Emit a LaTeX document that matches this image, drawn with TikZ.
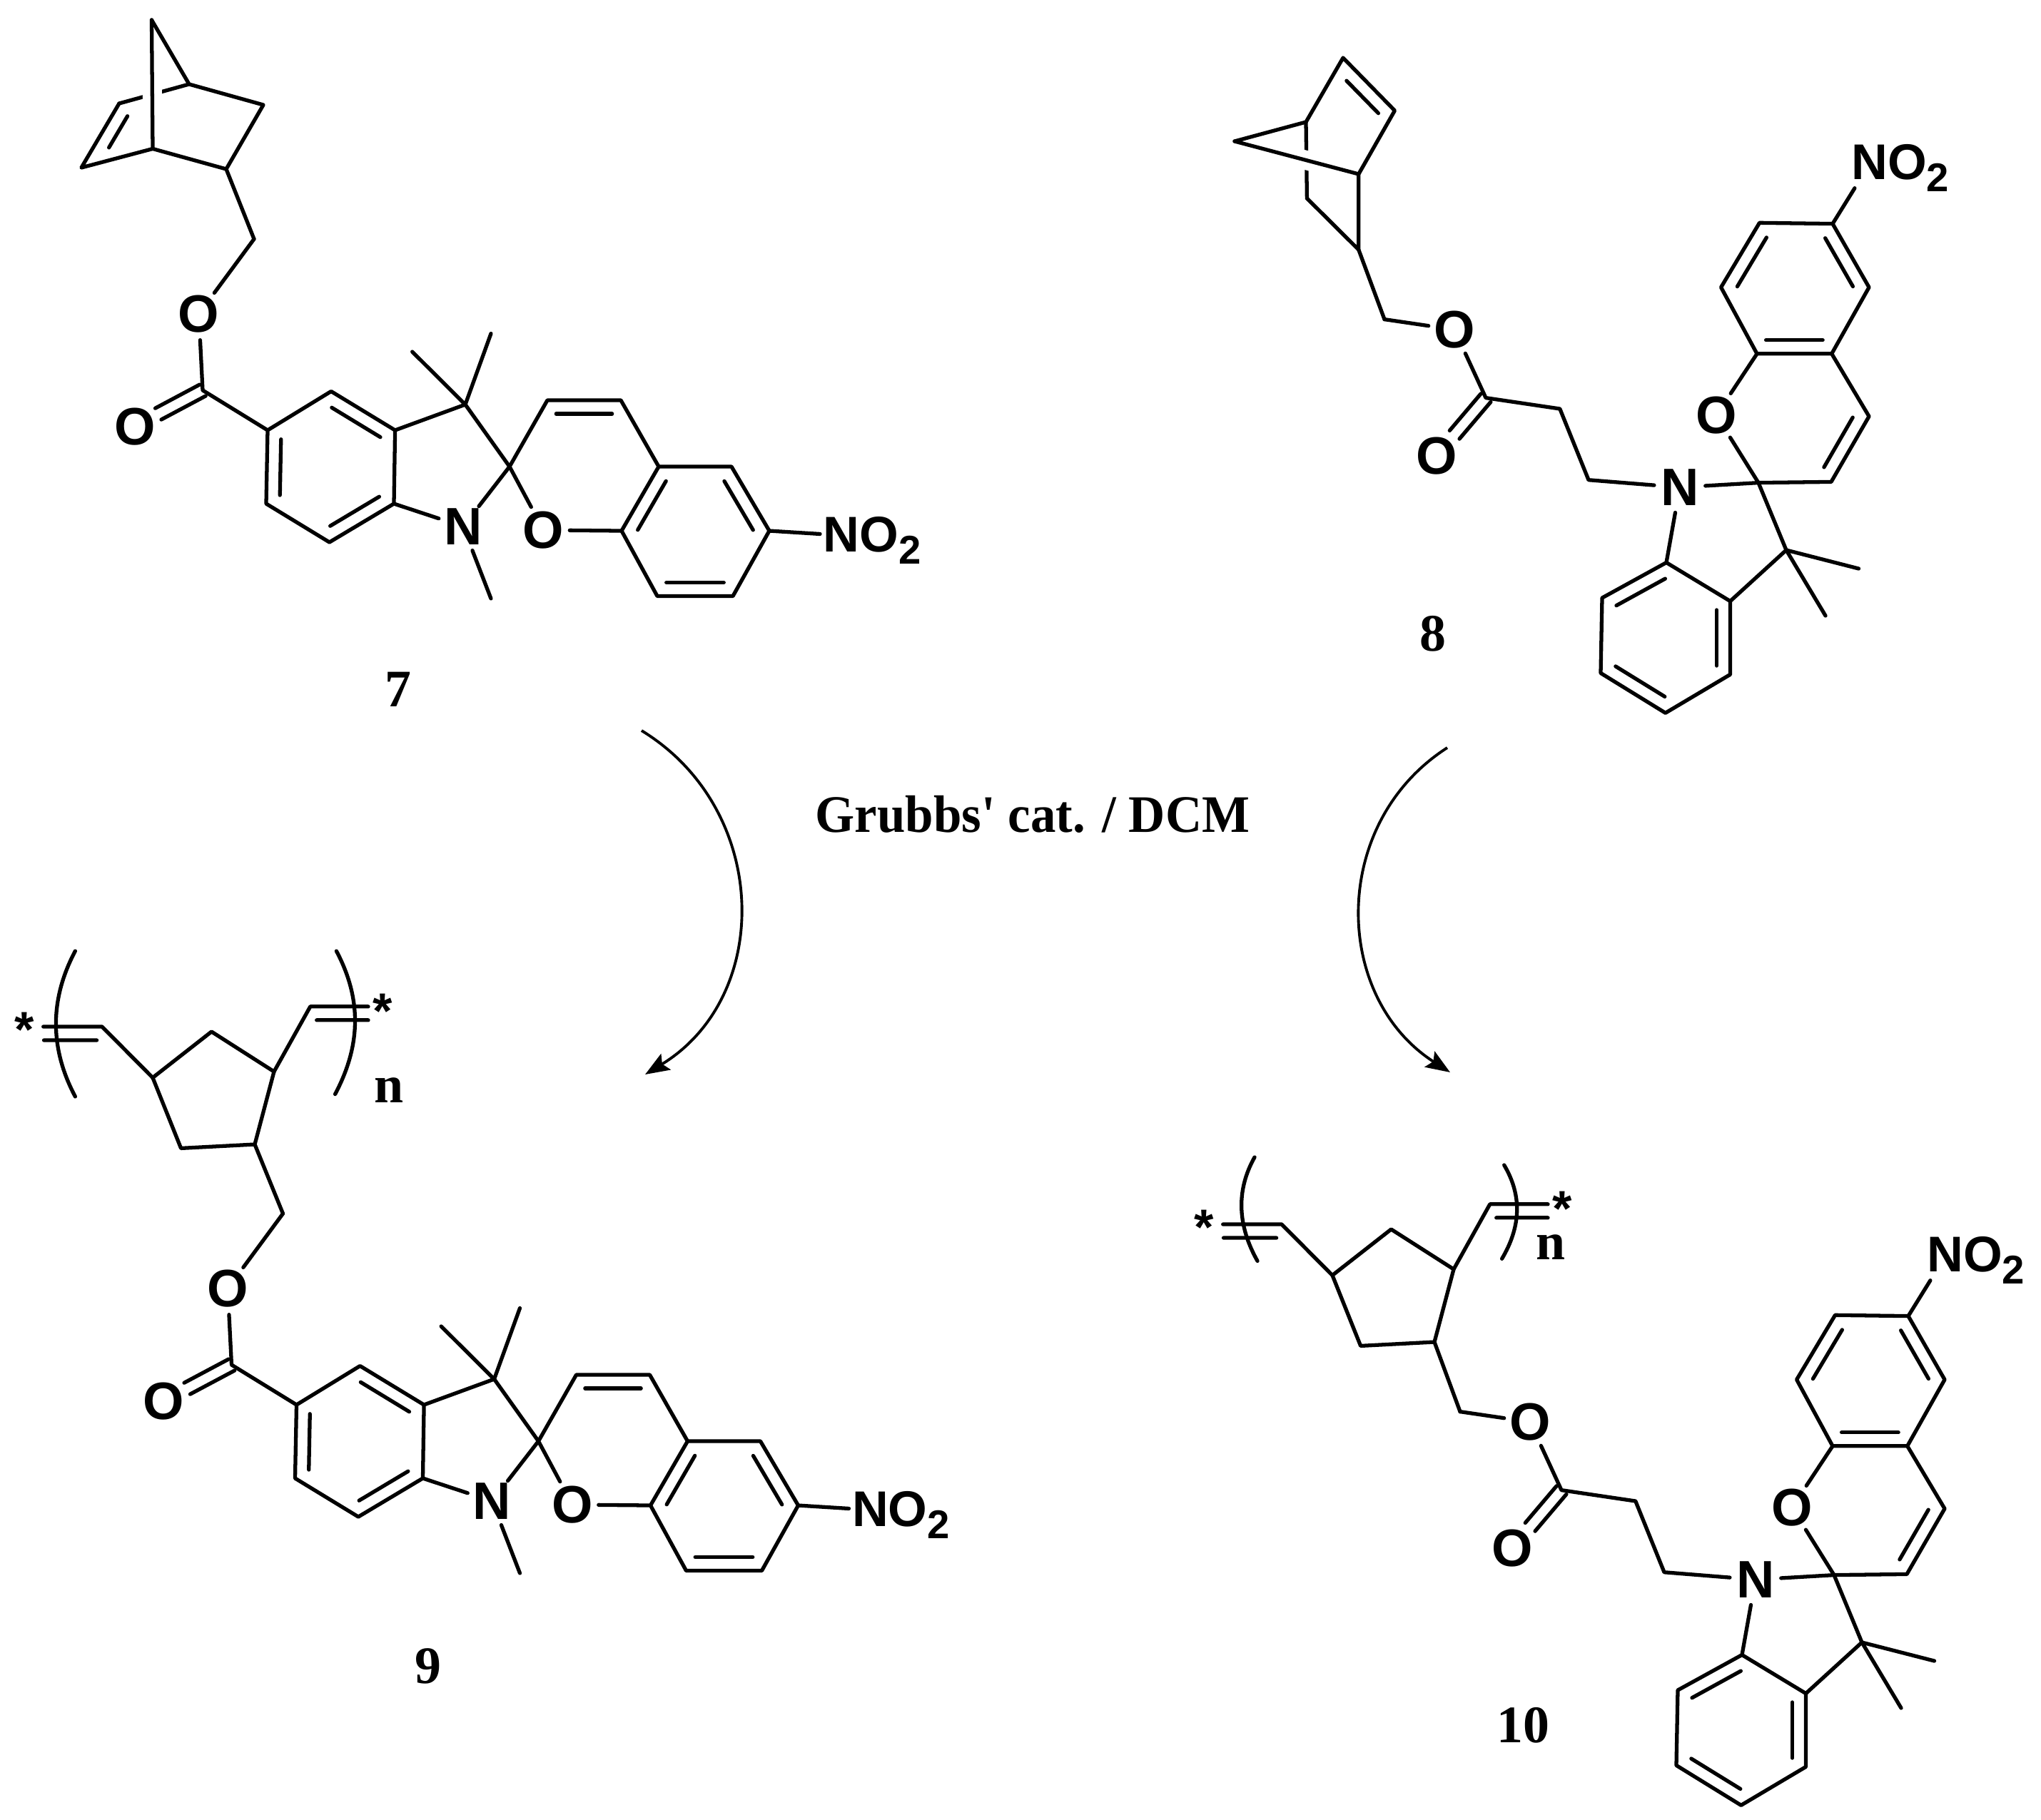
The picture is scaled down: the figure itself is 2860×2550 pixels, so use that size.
\documentclass[tikz,border=0pt]{standalone}
\usepackage{fontspec}
\usepackage{graphicx}
\setmainfont{Liberation Sans}
\newfontfamily\timesfont{Liberation Serif}
\usetikzlibrary{arrows.meta,calc}
\newcommand{\inbond}[4]{\draw[bond] ($(#1)!#3!(#2)!0.19cm!90:(#2)$) -- ($(#1)!#4!(#2)!0.19cm!90:(#2)$);}
\newcommand{\ringbond}[2]{\inbond{#1}{#2}{.12}{.88}}
\newcommand{\cobond}[3]{
	\draw[bond] ($(#1)!0.09cm!90:(#2)$) -- ($(#1)!#3!(#2)!0.09cm!90:(#2)$);
	\draw[bond] ($(#1)!0.09cm!-90:(#2)$) -- ($(#1)!#3!(#2)!0.09cm!-90:(#2)$);
}
\newcommand{\nitrogroup}{NO\raisebox{-1.7mm}{\fontsize{16}{16}\selectfont 2}}
\tikzset{
	bond/.style={line width=1.5pt,line cap=round,line join=round},
	bridge/.style={preaction={draw=white,line width=0.27cm}},
	atom/.style={circle,inner sep=0,minimum size=7.6mm,outer sep=-0.2mm,font=\bfseries\fontsize{21}{21}\selectfont},
	nitro/.style={anchor=base west,inner xsep=0.4mm,inner ysep=0,text depth=0pt,font=\bfseries\fontsize{20}{20}\selectfont},
	star/.style={inner sep=0,font=\bfseries\fontsize{20}{20}\selectfont},
	lab/.style={inner sep=0,font=\timesfont\bfseries\fontsize{21}{21}\selectfont},
	reaction/.style={line width=1.1pt,-{Stealth[length=3.4mm,width=2.6mm,inset=0.6mm]}},
	spiroA/.pic={
		\coordinate (-ch) at (356,335);
		\node[atom] (-oe) at (278.6,440) {O};
		\coordinate (-co) at (284,547);
		\node[atom] (-oc) at (189,597.6) {O};
		\coordinate (-a1) at (375,603);
		\coordinate (-a2) at (464,548.5);
		\coordinate (-a3) at (553.6,603);
		\coordinate (-a4) at (552,706);
		\coordinate (-a5) at (461.6,760);
		\coordinate (-a6) at (373,706);
		\coordinate (-c3) at (652,567);
		\coordinate (-m1) at (577.7,493);
		\coordinate (-m2) at (688,467.5);
		\coordinate (-sp) at (714,654);
		\node[atom] (-n) at (649,738) {N};
		\coordinate (-m3) at (688,839);
		\node[atom] (-or) at (761.6,743) {O};
		\coordinate (-b1) at (767,561);
		\coordinate (-b2) at (870,561);
		\coordinate (-b3) at (923,654);
		\coordinate (-b4) at (1025,654);
		\coordinate (-b5) at (1078,744);
		\coordinate (-b6) at (1027,835.5);
		\coordinate (-b7) at (921,835.5);
		\coordinate (-b8) at (871,744);
		\node[nitro] (-no) at (1149,773) {\nitrogroup};
		\cobond{-co}{-oc}{.655}
		\draw[bond] (-ch) -- (-oe) -- (-co) -- (-a1) -- (-a2) -- (-a3) -- (-a4) -- (-a5) -- (-a6) -- (-a1);
		\draw[bond] (-a3) -- (-c3) -- (-sp) -- (-n) -- (-a4);
		\draw[bond] (-m1) -- (-c3) -- (-m2);
		\draw[bond] (-n) -- (-m3);
		\draw[bond] (-sp) -- (-or) -- (-b8) -- (-b3) -- (-b2) -- (-b1) -- (-sp);
		\draw[bond] (-b3) -- (-b4) -- (-b5) -- (-b6) -- (-b7) -- (-b8);
		\draw[bond] (-b5) -- (-no.west);
		\ringbond{-a1}{-a6}
		\ringbond{-a5}{-a4}
		\ringbond{-a3}{-a2}
		\ringbond{-b2}{-b1}
		\ringbond{-b3}{-b8}
		\ringbond{-b7}{-b6}
		\ringbond{-b5}{-b4}
	},
	spiroB/.pic={
		\coordinate (-ch) at (1940,447.6);
		\node[atom] (-oe) at (2038,462) {O};
		\coordinate (-co) at (2082,557.6);
		\node[atom] (-oc) at (2013,639) {O};
		\coordinate (-c1) at (2185.8,573);
		\coordinate (-c2) at (2226,672.7);
		\node[atom] (-n) at (2353.8,683) {N};
		\coordinate (-d1) at (2335,788.5);
		\coordinate (-d2) at (2424.5,842.6);
		\coordinate (-d3) at (2424.5,945.4);
		\coordinate (-d4) at (2333.7,999.3);
		\coordinate (-d5) at (2243,943.4);
		\coordinate (-d6) at (2245,838);
		\coordinate (-c3) at (2503,771);
		\coordinate (-m1) at (2604.5,797);
		\coordinate (-m2) at (2558,863);
		\coordinate (-sp) at (2464,676.6);
		\node[atom] (-or) at (2405,582) {O};
		\coordinate (-e1) at (2462,495.8);
		\coordinate (-e2) at (2566.7,495.8);
		\coordinate (-e3) at (2619,583.6);
		\coordinate (-e4) at (2566,675.4);
		\coordinate (-f1) at (2411.6,402.7);
		\coordinate (-f2) at (2465.5,312.3);
		\coordinate (-f3) at (2568,313.6);
		\coordinate (-f4) at (2619,402.7);
		\node[nitro] (-no) at (2589.5,251) {\nitrogroup};
		\cobond{-co}{-oc}{.635}
		\draw[bond] (-ch) -- (-oe) -- (-co) -- (-c1) -- (-c2) -- (-n) -- (-sp) -- (-c3) -- (-d2);
		\draw[bond] (-n) -- (-d1) -- (-d2) -- (-d3) -- (-d4) -- (-d5) -- (-d6) -- (-d1);
		\draw[bond] (-m1) -- (-c3) -- (-m2);
		\draw[bond] (-sp) -- (-or) -- (-e1) -- (-e2) -- (-e3) -- (-e4) -- (-sp);
		\draw[bond] (-e1) -- (-f1) -- (-f2) -- (-f3) -- (-f4) -- (-e2);
		\draw[bond] (-f3) -- ([shift={(9.4,12)}]-no.south west);
		\ringbond{-d1}{-d6}
		\ringbond{-d5}{-d4}
		\ringbond{-d3}{-d2}
		\ringbond{-e4}{-e3}
		\ringbond{-e1}{-e2}
		\ringbond{-f2}{-f1}
		\ringbond{-f4}{-f3}
	},
	polyring/.pic={
		\coordinate (-r1) at (214,1510.5);
		\coordinate (-r2) at (296.4,1446);
		\coordinate (-r3) at (384,1502);
		\coordinate (-c) at (357,1604);
		\coordinate (-r5) at (253.6,1609.4);
		\coordinate (-lv) at (143,1439);
		\coordinate (-le) at (60.7,1439);
		\coordinate (-rv) at (434.8,1410.8);
		\coordinate (-re) at (516,1410.8);
		\node[star] (-sl) at (34,1443) {*};
		\node[star] (-sr) at (536,1417) {*};
		\draw[bond] (-r1) -- (-r2) -- (-r3) -- (-c) -- (-r5) -- (-r1);
		\draw[bond] (-le) -- (-lv) -- (-r1);
		\draw[bond] (-re) -- (-rv) -- (-r3);
		\inbond{-lv}{-le}{.09}{.99}
		\inbond{-re}{-rv}{0}{.89}
	}
}
\begin{document}
\begin{tikzpicture}[x=0.01cm,y=-0.01cm]
	\useasboundingbox (0,0) rectangle (2860,2550);
	% 7
	\coordinate (n7a) at (114,235);
	\coordinate (n7b) at (167,145);
	\coordinate (n7c) at (265,118);
	\coordinate (n7d) at (369,147);
	\coordinate (n7e) at (317,237);
	\coordinate (n7f) at (214,208.5);
	\coordinate (n7t) at (212.5,28);
	\draw[bond] (n7b) -- (n7c);
	\draw[bond,bridge] (n7t) -- (n7f);
	\draw[bond] (n7t) -- (n7c) -- (n7d) -- (n7e) -- (n7f) -- (n7a) -- (n7b);
	\inbond{n7b}{n7a}{.09}{.58}
	\pic (m7) at (0,0) {spiroA};
	\draw[bond] (n7e) -- (m7-ch);
	\node[lab] (lab7) at (558,966) {7};
	% 8
	\coordinate (n8a) at (1882,81);
	\coordinate (n8b) at (1954.4,155);
	\coordinate (n8c) at (1903.8,244);
	\coordinate (n8d) at (1830,171);
	\coordinate (n8e) at (1730,198);
	\coordinate (n8f) at (1831.4,278);
	\coordinate (n8g) at (1903.8,350);
	\draw[bond] (n8d) -- (n8f);
	\draw[bond,bridge] (n8e) -- (n8c);
	\draw[bond] (n8e) -- (n8d) -- (n8a) -- (n8b) -- (n8c) -- (n8g) -- (n8f);
	\inbond{n8b}{n8a}{.13}{.745}
	\pic (m8) at (0,0) {spiroB};
	\draw[bond] (n8g) -- (m8-ch);
	\node[lab] (lab8) at (2008,888) {8};
	% 9
	\pic (p9) at (0,0) {polyring};
	\pic (m9) at (40.5,1366) {spiroA};
	\draw[bond] (p9-c) -- (m9-ch);
	\coordinate (b9a) at (105.4,1333);
	\coordinate (b9b) at (105.4,1537);
	\coordinate (b9c) at (471.4,1333);
	\coordinate (b9d) at (469.6,1533.6);
	\draw[bond] (b9a) .. controls +(-36,68) and +(-36,-68) .. (b9b);
	\draw[bond] (b9c) .. controls +(36,68) and +(36,-68) .. (b9d);
	\node[lab] (n9) at (544.6,1528) {n};
	\node[lab] (lab9) at (600,2335) {9};
	% 10
	\pic (p10) at (1653,277) {polyring};
	\pic (m10) at (106,1531) {spiroB};
	\draw[bond] (p10-c) -- (m10-ch);
	\coordinate (b10a) at (1758,1622);
	\coordinate (b10b) at (1762,1767.4);
	\coordinate (b10c) at (2107.7,1633);
	\coordinate (b10d) at (2104.6,1764.3);
	\draw[bond] (b10a) .. controls +(-27,48) and +(-27,-48) .. (b10b);
	\draw[bond] (b10c) .. controls +(26,44) and +(26,-44) .. (b10d);
	\node[lab] (n10) at (2173,1748) {n};
	\node[lab] (lab10) at (2134,2418) {10};
	% arrows
	\node[lab] (cat) at (1447,1141) {\scalebox{.96}[1]{Grubbs' cat. / DCM}};
	\coordinate (a7s) at (899,1024);
	\coordinate (a7e) at (904,1506);
	\coordinate (a8s) at (2028,1048);
	\coordinate (a8e) at (2032,1503);
	\draw[reaction] (a7s) .. controls +(180,110) and +(180,-110) .. (a7e);
	\draw[reaction] (a8s) .. controls +(-165,106) and +(-165,-106) .. (a8e);
\end{tikzpicture}
\end{document}
